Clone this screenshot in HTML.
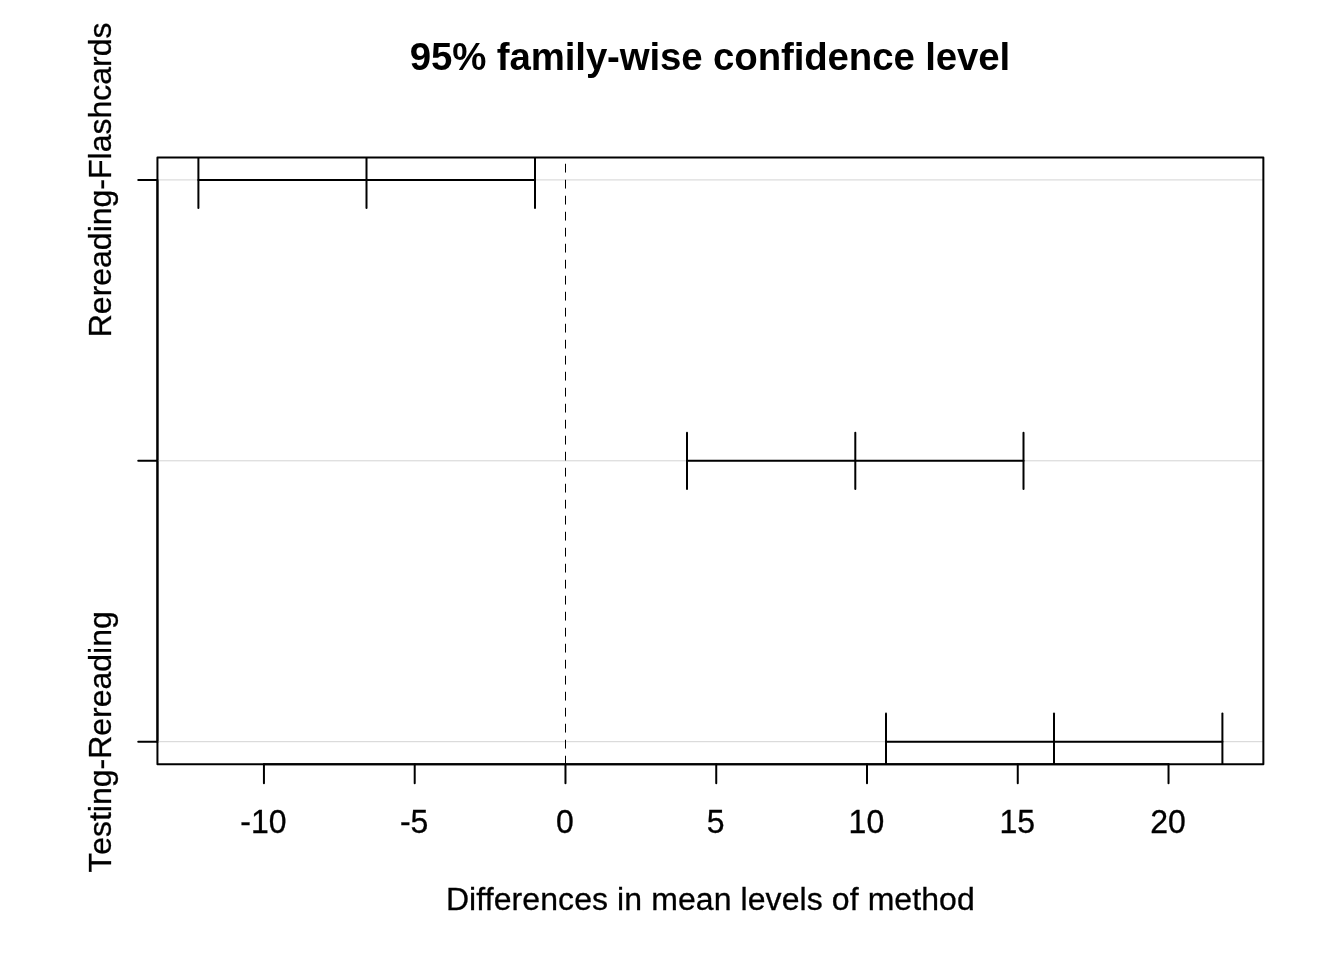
<!DOCTYPE html>
<html lang="en">
<head>
<meta charset="utf-8">
<title>95% family-wise confidence level</title>
<style>
html,body{margin:0;padding:0;background:#fff;}
body{width:1344px;height:960px;overflow:hidden;}
svg{display:block;}
text{font-family:"Liberation Sans",Arial,Helvetica,sans-serif;fill:#000;text-anchor:middle;font-variant-ligatures:none;}
.t{font-size:32px;stroke:#000;stroke-width:0.3px;}
.m{font-size:38.4px;font-weight:bold;letter-spacing:-0.115px;}
.x{letter-spacing:0.09px;}
.k{stroke:#000;stroke-width:2;stroke-linecap:round;stroke-linejoin:round;fill:none;}
.g{stroke:#d3d3d3;stroke-width:1;fill:none;}
.d{stroke:#000;stroke-width:1;stroke-dasharray:8 8;stroke-linecap:round;fill:none;}
</style>
</head>
<body>
<svg width="1344" height="960" viewBox="0 0 1344 960">
<rect width="1344" height="960" fill="#fff"/>
<defs><clipPath id="plot"><rect x="157.44" y="157.44" width="1105.92" height="606.72"/></clipPath></defs>

<g id="x-axis">
<path class="k" d="M263.94 764.16H1168.53"/>
<path class="k" d="M263.94 764.16v19.2"/>
<text class="t" transform="translate(263.34 832.8) scale(1 1.035)">-10</text>
<path class="k" d="M414.71 764.16v19.2"/>
<text class="t" transform="translate(414.11 832.8) scale(1 1.035)">-5</text>
<path class="k" d="M565.47 764.16v19.2"/>
<text class="t" transform="translate(564.87 832.8) scale(1 1.035)">0</text>
<path class="k" d="M716.24 764.16v19.2"/>
<text class="t" transform="translate(715.63 832.8) scale(1 1.035)">5</text>
<path class="k" d="M867.00 764.16v19.2"/>
<text class="t" transform="translate(866.40 832.8) scale(1 1.035)">10</text>
<path class="k" d="M1017.76 764.16v19.2"/>
<text class="t" transform="translate(1017.16 832.8) scale(1 1.035)">15</text>
<path class="k" d="M1168.53 764.16v19.2"/>
<text class="t" transform="translate(1167.93 832.8) scale(1 1.035)">20</text>
</g>
<g id="y-axis">
<path class="k" d="M157.44 179.91V741.69"/>
<path class="k" d="M157.44 179.91h-19.2"/>
<path class="k" d="M157.44 460.80h-19.2"/>
<path class="k" d="M157.44 741.69h-19.2"/>
<text class="t" transform="translate(111.4 179.91) rotate(-90) scale(1 0.99)">Rereading-Flashcards</text>
<text class="t" dx="0 1.7" transform="translate(111.4 741.89) rotate(-90) scale(1 0.99)">Testing-Rereading</text>
</g>
<g id="panel" clip-path="url(#plot)">
<path class="g" d="M157.44 179.91H1263.36"/>
<path class="g" d="M157.44 460.80H1263.36"/>
<path class="g" d="M157.44 741.69H1263.36"/>
<path class="d" d="M565.5 764.16V157.44"/>
<path class="k" d="M198.4 179.91H535.0"/>
<path class="k" d="M198.4 151.82V208.00"/>
<path class="k" d="M366.5 151.82V208.00"/>
<path class="k" d="M535.0 151.82V208.00"/>
<path class="k" d="M687.0 460.80H1023.5"/>
<path class="k" d="M687.0 432.71V488.89"/>
<path class="k" d="M855.3 432.71V488.89"/>
<path class="k" d="M1023.5 432.71V488.89"/>
<path class="k" d="M886.0 741.69H1222.4"/>
<path class="k" d="M886.0 713.60V769.78"/>
<path class="k" d="M1054.0 713.60V769.78"/>
<path class="k" d="M1222.4 713.60V769.78"/>
</g>
<text class="m" x="709.90" y="70">95% family-wise confidence level</text>
<text class="t x" transform="translate(710.40 910) scale(1 0.99)">Differences in mean levels of method</text>
<rect class="k" x="157.44" y="157.44" width="1105.92" height="606.72"/>
</svg>
</body>
</html>
